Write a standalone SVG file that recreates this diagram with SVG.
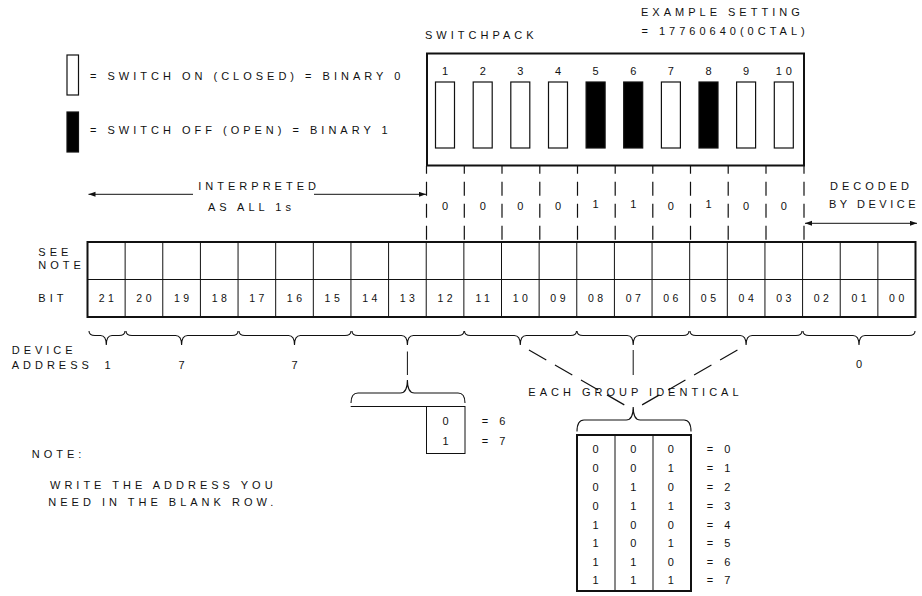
<svg xmlns="http://www.w3.org/2000/svg" width="922" height="596" viewBox="0 0 922 596">
<defs>
<style>
.t{font-family:"Liberation Sans",Arial,sans-serif;font-size:11px;letter-spacing:4px;fill:#111}
.m{text-anchor:middle}
.d{font-family:"Liberation Sans",Arial,sans-serif;font-size:10.5px;letter-spacing:3.5px;fill:#111;text-anchor:middle}
.ln{stroke:#111;stroke-width:1;fill:none}
.thick{stroke:#111;stroke-width:2;fill:none}
.dash{stroke:#111;stroke-width:1.2;fill:none;stroke-dasharray:14 8;stroke-dashoffset:6.3}
.dd{stroke:#111;stroke-width:1.2;fill:none;stroke-dasharray:20 10;stroke-dashoffset:20}
.br{stroke:#111;stroke-width:1.1;fill:none}
.sw{stroke:#111;stroke-width:1.2;fill:#fff}
.swf{stroke:#111;stroke-width:1.2;fill:#000}
</style>
<marker id="ah" markerUnits="userSpaceOnUse" markerWidth="8" markerHeight="6" refX="7" refY="2.5" orient="auto-start-reverse">
<path d="M0,0 L7,2.5 L0,5 z" fill="#111"/>
</marker>
</defs>
<rect width="922" height="596" fill="#fff"/>

<g id="legend">
<rect x="67" y="55" width="11.5" height="40" class="sw"/>
<text class="t" x="90" y="80">= SWITCH ON (CLOSED) = BINARY 0</text>
<rect x="67" y="112" width="11.5" height="40" class="swf"/>
<text class="t" x="90" y="134">= SWITCH OFF (OPEN) = BINARY 1</text>
</g>

<g id="example">
<text class="t" x="641" y="15.5">EXAMPLE SETTING</text>
<text class="t" x="641.5" y="34.5">= 17760640(0CTAL)</text>
</g>

<g id="switchpack">
<text class="t" x="425" y="39">SWITCHPACK</text>
<rect x="427" y="53.5" width="377" height="112" class="thick"/>
<g class="t m">
<text x="447" y="74.6">1</text>
<text x="484.7" y="74.6">2</text>
<text x="522.3" y="74.6">3</text>
<text x="560" y="74.6">4</text>
<text x="597.6" y="74.6">5</text>
<text x="635.2" y="74.6">6</text>
<text x="672.9" y="74.6">7</text>
<text x="710.5" y="74.6">8</text>
<text x="748.1" y="74.6">9</text>
<text x="785.8" y="74.6">10</text>
</g>
<rect x="435.5" y="82" width="19" height="66" class="sw"/>
<rect x="473.2" y="82" width="19" height="66" class="sw"/>
<rect x="510.8" y="82" width="19" height="66" class="sw"/>
<rect x="548.5" y="82" width="19" height="66" class="sw"/>
<rect x="586.1" y="82" width="19" height="66" class="swf"/>
<rect x="623.7" y="82" width="19" height="66" class="swf"/>
<rect x="661.4" y="82" width="19" height="66" class="sw"/>
<rect x="699" y="82" width="19" height="66" class="swf"/>
<rect x="736.6" y="82" width="19" height="66" class="sw"/>
<rect x="774.3" y="82" width="19" height="66" class="sw"/>
</g>

<g id="switch-values" class="t m">
<text x="447" y="209.5">0</text>
<text x="484.7" y="209.5">0</text>
<text x="522.3" y="209.5">0</text>
<text x="560" y="209.5">0</text>
<text x="597.6" y="207.5">1</text>
<text x="635.2" y="207.5">1</text>
<text x="672.9" y="209.5">0</text>
<text x="710.5" y="207.5">1</text>
<text x="748.1" y="209.5">0</text>
<text x="785.8" y="209.5">0</text>
</g>

<g id="interpreted">
<text class="t" x="198.3" y="189.6">INTERPRETED</text>
<text class="t" x="208" y="210.6">AS ALL 1s</text>
</g>

<g id="decoded">
<text class="t" x="830" y="189.6">DECODED</text>
<text class="t" x="829" y="208.2" style="letter-spacing:3.5px">BY DEVICE</text>
</g>

<g id="bit-table">
<rect x="87.5" y="242" width="828" height="75" class="thick"/>
<line x1="87.5" y1="279.5" x2="915.5" y2="279.5" class="ln"/>
<path class="ln" d="M125.14,242V317M162.77,242V317M200.41,242V317M238.05,242V317M275.68,242V317M313.32,242V317M350.95,242V317M388.59,242V317M426.23,242V317M463.86,242V317M501.5,242V317M539.14,242V317M576.77,242V317M614.41,242V317M652.05,242V317M689.68,242V317M727.32,242V317M764.95,242V317M802.59,242V317M840.23,242V317M877.86,242V317"/>
<text class="t" x="38.3" y="255.6">SEE</text>
<text class="t" x="38.3" y="269">NOTE</text>
<text class="t" x="38.3" y="302">BIT</text>
<g class="d">
<text x="108" y="301.5">21</text>
<text x="145.7" y="301.5">20</text>
<text x="183.3" y="301.5">19</text>
<text x="221" y="301.5">18</text>
<text x="258.6" y="301.5">17</text>
<text x="296.2" y="301.5">16</text>
<text x="333.9" y="301.5">15</text>
<text x="371.5" y="301.5">14</text>
<text x="409.1" y="301.5">13</text>
<text x="446.8" y="301.5">12</text>
<text x="484.4" y="301.5">11</text>
<text x="522" y="301.5">10</text>
<text x="559.7" y="301.5">09</text>
<text x="597.3" y="301.5">08</text>
<text x="635" y="301.5">07</text>
<text x="672.6" y="301.5">06</text>
<text x="710.2" y="301.5">05</text>
<text x="747.9" y="301.5">04</text>
<text x="785.5" y="301.5">03</text>
<text x="823.1" y="301.5">02</text>
<text x="860.8" y="301.5">01</text>
<text x="898.4" y="301.5">00</text>
</g>
</g>

<g id="device-address">
<text class="t" x="11.7" y="354">DEVICE</text>
<text class="t" x="11.7" y="369">ADDRESS</text>
<g class="t m">
<text x="109.5" y="369">1</text>
<text x="183.6" y="369">7</text>
<text x="296.5" y="369">7</text>
<text x="861" y="368">0</text>
</g>
</g>

<g id="small-box">
<rect x="426.5" y="406.5" width="38.5" height="47" class="ln"/>
<text class="t m" x="447.5" y="424.6">0</text>
<text class="t m" x="447.5" y="445">1</text>
<text class="t" x="481.7" y="424.6">= 6</text>
<text class="t" x="481.7" y="445">= 7</text>
</g>

<g id="group-label">
<text class="t" x="528.3" y="395.6">EACH GROUP IDENTICAL</text>
</g>

<g id="octal-table">
<rect x="577" y="435" width="114" height="156" class="thick"/>
<line x1="615" y1="435" x2="615" y2="591" class="ln"/>
<line x1="653" y1="435" x2="653" y2="591" class="ln"/>
<g class="t m">
<text x="597.6" y="453.2">0</text><text x="635.2" y="453.2">0</text><text x="672.9" y="453.2">0</text>
<text x="597.6" y="472.2">0</text><text x="635.2" y="472.2">0</text><text x="672.9" y="472.2">1</text>
<text x="597.6" y="490.6">0</text><text x="635.2" y="490.6">1</text><text x="672.9" y="490.6">0</text>
<text x="597.6" y="509.9">0</text><text x="635.2" y="509.9">1</text><text x="672.9" y="509.9">1</text>
<text x="597.6" y="528.9">1</text><text x="635.2" y="528.9">0</text><text x="672.9" y="528.9">0</text>
<text x="597.6" y="547.2">1</text><text x="635.2" y="547.2">0</text><text x="672.9" y="547.2">1</text>
<text x="597.6" y="565.6">1</text><text x="635.2" y="565.6">1</text><text x="672.9" y="565.6">0</text>
<text x="597.6" y="583.9">1</text><text x="635.2" y="583.9">1</text><text x="672.9" y="583.9">1</text>
</g>
<g class="t">
<text x="706.7" y="453.2">= 0</text>
<text x="706.7" y="472.2">= 1</text>
<text x="706.7" y="490.6">= 2</text>
<text x="706.7" y="509.9">= 3</text>
<text x="706.7" y="528.9">= 4</text>
<text x="706.7" y="547.2">= 5</text>
<text x="706.7" y="565.6">= 6</text>
<text x="706.7" y="583.9">= 7</text>
</g>
</g>

<g id="note">
<text class="t" x="31.7" y="458">NOTE:</text>
<text class="t" x="50" y="489">WRITE THE ADDRESS YOU</text>
<text class="t" x="48.3" y="505.5">NEED IN THE BLANK ROW.</text>
</g>

<g id="connectors">
<path class="dash" d="M426.5,166V242M464.3,166V242M502,166V242M539.8,166V242M577.5,166V242M615.2,166V242M652.8,166V242M690.5,166V242M728.2,166V242M766,166V242M804,166V242"/>
<line x1="193" y1="194.3" x2="88.5" y2="194.3" class="ln" marker-end="url(#ah)"/>
<line x1="314" y1="194.3" x2="426" y2="194.3" class="ln" marker-end="url(#ah)"/>
<line x1="805" y1="223.3" x2="917" y2="223.3" class="ln" marker-start="url(#ah)" marker-end="url(#ah)"/>
<path class="br" d="M89,331 Q89,335.5 95,335.5 L100.5,335.5 Q106.3,335.5 106.3,345 Q106.3,335.5 112,335.5 L119,335.5 Q125,335.5 125,331"/>
<path class="br" d="M126,331 Q126,335.5 132,335.5 L175.6,335.5 Q181.6,335.5 181.6,345 Q181.6,335.5 187.6,335.5 L232,335.5 Q238,335.5 238,331"/>
<path class="br" d="M239,331 Q239,335.5 245,335.5 L288.5,335.5 Q294.5,335.5 294.5,345 Q294.5,335.5 300.5,335.5 L345,335.5 Q351,335.5 351,331"/>
<path class="br" d="M352,331 Q352,335.5 358,335.5 L401.4,335.5 Q407.4,335.5 407.4,345 Q407.4,335.5 413.4,335.5 L458,335.5 Q464,335.5 464,331"/>
<path class="br" d="M464.5,331 Q464.5,335.5 470.5,335.5 L514.3,335.5 Q520.3,335.5 520.3,345 Q520.3,335.5 526.3,335.5 L570.5,335.5 Q576.5,335.5 576.5,331"/>
<path class="br" d="M577,331 Q577,335.5 583,335.5 L627.2,335.5 Q633.2,335.5 633.2,345 Q633.2,335.5 639.2,335.5 L683,335.5 Q689,335.5 689,331"/>
<path class="br" d="M690,331 Q690,335.5 696,335.5 L740.1,335.5 Q746.1,335.5 746.1,345 Q746.1,335.5 752.1,335.5 L796,335.5 Q802,335.5 802,331"/>
<path class="br" d="M803,331 Q803,335.5 809,335.5 L853,335.5 Q859,335.5 859,345 Q859,335.5 865,335.5 L909,335.5 Q915,335.5 915,331"/>
<line x1="407.4" y1="351.5" x2="407.4" y2="375" class="ln" stroke-width="1.2"/>
<path class="br" d="M351,403 Q351,393 358,393 L400.4,393 Q407.4,393 407.4,380 Q407.4,393 414.4,393 L458,393 Q465,393 465,403"/>
<line x1="350.7" y1="406.5" x2="426.5" y2="406.5" class="ln"/>
<line x1="633.2" y1="350" x2="633.2" y2="375" class="ln" stroke-width="1.2"/>
<line x1="520.3" y1="345" x2="633.2" y2="410" class="dd"/>
<line x1="746.1" y1="345" x2="633.2" y2="410" class="dd"/>
<path class="br" d="M577,431.5 Q577,420 584,420 L626.2,420 Q633.2,420 633.2,407 Q633.2,420 640.2,420 L684,420 Q691,420 691,431.5"/>
</g>
</svg>
